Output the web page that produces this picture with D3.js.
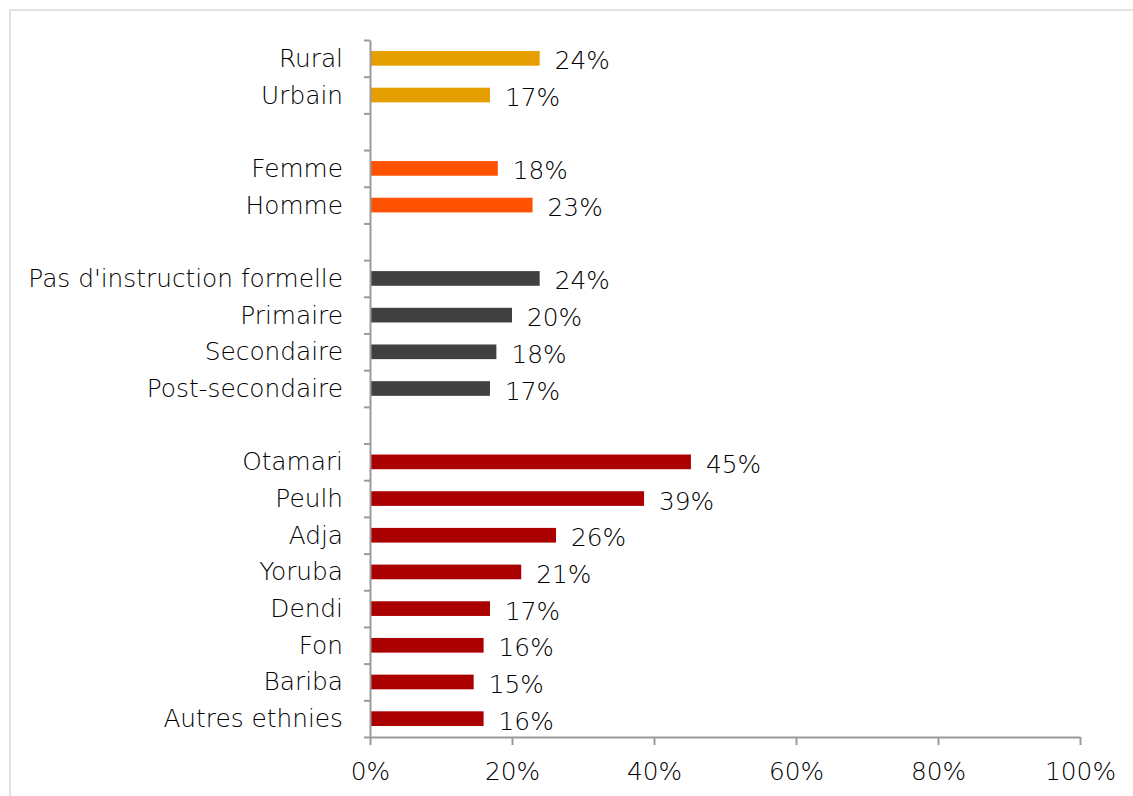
<!DOCTYPE html>
<html>
<head>
<meta charset="utf-8">
<script src="https://cdn.jsdelivr.net/npm/d3@7"></script>
<style>
  body { margin: 0; background: #fff; }
  svg text { font-family: "DejaVu Sans", sans-serif; font-weight: 200; fill: #000; }
  .axis path, .axis line { stroke: #9a9a9a; stroke-width: 2; }
</style>
</head>
<body>
<svg id="chart" width="1133" height="796"></svg>
<script>
// slots from top to bottom, "" = empty row between groups
var categories = ["Rural", "Urbain", "",
  "Femme", "Homme", "",
  "Pas d'instruction formelle", "Primaire", "Secondaire", "Post-secondaire", "",
  "Otamari", "Peulh", "Adja", "Yoruba", "Dendi", "Fon", "Bariba", "Autres ethnies"];
var values = [23.9, 16.9, null,
  18.0, 22.9, null,
  23.9, 20.0, 17.8, 16.9, null,
  45.2, 38.6, 26.2, 21.3, 16.9, 16.0, 14.6, 16.0];
var groups = [0, 0, null, 1, 1, null, 2, 2, 2, 2, null, 3, 3, 3, 3, 3, 3, 3, 3];
var groupColors = ["#e69f00", "#ff5200", "#404040", "#ab0000"];
var xTicks = [0, 20, 40, 60, 80, 100];

var svg = d3.select("#chart");
var margin = {top: 40, left: 370, right: 53, bottom: 59};
var width = 1133, height = 796;
var fontSize = "24.8px";

// frame
svg.append("rect")
  .attr("x", 10).attr("y", 10)
  .attr("width", width).attr("height", height)
  .attr("fill", "none").attr("stroke", "#d9d9d9").attr("stroke-width", 1.5);

var rows = categories.map(function(c, i) { return i; });

var xScale = d3.scaleLinear().domain([0, 100]).range([margin.left, width - margin.right]);
var yBand = d3.scaleBand().domain(rows).range([margin.top, height - margin.bottom]).paddingInner(0.6).paddingOuter(0.3);
var yIdx = d3.scaleLinear().domain([0, rows.length]).range([margin.top, height - margin.bottom]);

// bars
var data = rows.filter(function(i) { return values[i] != null; });
svg.append("g").selectAll("rect")
  .data(data)
  .enter().append("rect")
  .attr("x", xScale(0))
  .attr("y", function(i) { return yBand(i); })
  .attr("width", function(i) { return xScale(values[i]) - xScale(0); })
  .attr("height", yBand.bandwidth())
  .attr("fill", function(i) { return groupColors[groups[i]]; });

// value labels
svg.append("g").selectAll("text")
  .data(data)
  .enter().append("text")
  .attr("x", function(i) { return xScale(values[i]) + 15; })
  .attr("y", function(i) { return yBand(i) + yBand.bandwidth() / 2 + 11; })
  .style("font-size", fontSize)
  .text(function(i) { return Math.round(values[i]) + "%"; });

// category labels
svg.append("g").selectAll("text")
  .data(rows.filter(function(i) { return categories[i] !== ""; }))
  .enter().append("text")
  .attr("x", 343)
  .attr("y", function(i) { return yBand(i) + yBand.bandwidth() / 2 + 8.5; })
  .attr("text-anchor", "end")
  .style("font-size", fontSize)
  .text(function(i) { return categories[i]; });

// y axis with ticks between rows
svg.append("g")
  .attr("class", "axis")
  .attr("transform", "translate(" + xScale(0) + ",0)")
  .call(d3.axisLeft(yIdx).tickValues(d3.range(rows.length + 1)).tickSize(6).tickSizeOuter(0).tickFormat(""));

// x axis
var xAxis = svg.append("g")
  .attr("class", "axis")
  .attr("transform", "translate(0," + (height - margin.bottom) + ")")
  .call(d3.axisBottom(xScale).tickValues(xTicks).tickSize(8).tickSizeOuter(0).tickPadding(17)
    .tickFormat(function(d) { return d + "%"; }));
xAxis.selectAll("text").style("font-size", fontSize).style("font-family", null).style("fill", "#000");
</script>
</body>
</html>
